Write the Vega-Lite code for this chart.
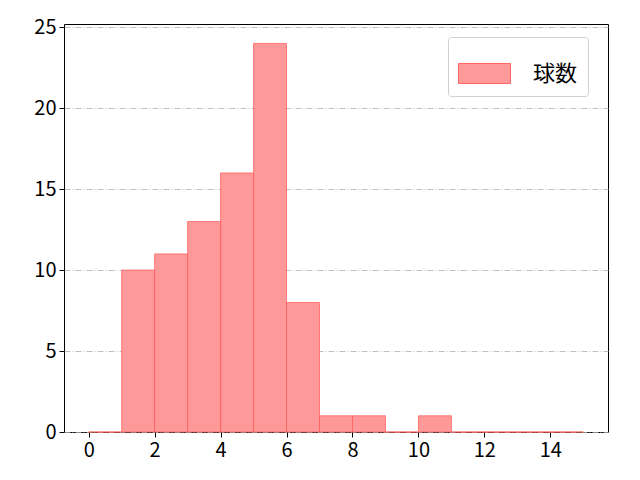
{
  "$schema": "https://vega.github.io/schema/vega-lite/v6.json",
  "width": 544,
  "height": 408,
  "autosize": {"type": "none"},
  "padding": {"left": 64, "top": 24, "right": 32, "bottom": 48},
  "config": {
    "font": "Noto Sans CJK JP",
    "view": {"stroke": "black", "strokeWidth": 1}
  },
  "data": {
    "values": [
      {"bin_start": 0, "bin_end": 1, "count": 0, "series": "球数"},
      {"bin_start": 1, "bin_end": 2, "count": 10, "series": "球数"},
      {"bin_start": 2, "bin_end": 3, "count": 11, "series": "球数"},
      {"bin_start": 3, "bin_end": 4, "count": 13, "series": "球数"},
      {"bin_start": 4, "bin_end": 5, "count": 16, "series": "球数"},
      {"bin_start": 5, "bin_end": 6, "count": 24, "series": "球数"},
      {"bin_start": 6, "bin_end": 7, "count": 8, "series": "球数"},
      {"bin_start": 7, "bin_end": 8, "count": 1, "series": "球数"},
      {"bin_start": 8, "bin_end": 9, "count": 1, "series": "球数"},
      {"bin_start": 9, "bin_end": 10, "count": 0, "series": "球数"},
      {"bin_start": 10, "bin_end": 11, "count": 1, "series": "球数"},
      {"bin_start": 11, "bin_end": 12, "count": 0, "series": "球数"},
      {"bin_start": 12, "bin_end": 13, "count": 0, "series": "球数"},
      {"bin_start": 13, "bin_end": 14, "count": 0, "series": "球数"},
      {"bin_start": 14, "bin_end": 15, "count": 0, "series": "球数"}
    ]
  },
  "mark": {"type": "rect", "stroke": "#ff5555", "strokeWidth": 1, "strokeOpacity": 0.7},
  "encoding": {
    "x": {
      "field": "bin_start",
      "type": "quantitative",
      "scale": {"domain": [-0.75, 15.75], "nice": false, "zero": false},
      "axis": {
        "title": null,
        "values": [0, 2, 4, 6, 8, 10, 12, 14],
        "grid": false,
        "domain": false,
        "tickColor": "black",
        "tickSize": 5,
        "labelFontSize": 20,
        "labelColor": "black",
        "labelPadding": 3,
        "labelFlush": false
      }
    },
    "x2": {"field": "bin_end"},
    "y": {
      "field": "count",
      "type": "quantitative",
      "scale": {"domain": [0, 25.2], "nice": false},
      "axis": {
        "title": null,
        "values": [0, 5, 10, 15, 20, 25],
        "grid": true,
        "gridColor": "#b0b0b0",
        "gridDash": [6, 2, 1, 2],
        "gridWidth": 0.8,
        "domain": false,
        "tickColor": "black",
        "tickSize": 5,
        "labelFontSize": 20,
        "labelColor": "black",
        "labelPadding": 3,
        "labelFlush": false
      }
    },
    "y2": {"datum": 0},
    "color": {
      "field": "series",
      "type": "nominal",
      "scale": {"range": ["#ff9999"]},
      "legend": {
        "title": null,
        "orient": "none",
        "legendX": 384,
        "legendY": 13,
        "padding": 10,
        "strokeColor": "#d0d0d0",
        "fillColor": "white",
        "cornerRadius": 3,
        "symbolType": "M-1,-0.385H1V0.385H-1Z",
        "symbolSize": 2704,
        "symbolStrokeColor": "#ff6666",
        "symbolStrokeWidth": 1,
        "symbolOpacity": 1,
        "labelFontSize": 22,
        "labelColor": "black",
        "labelOffset": 22
      }
    }
  }
}
